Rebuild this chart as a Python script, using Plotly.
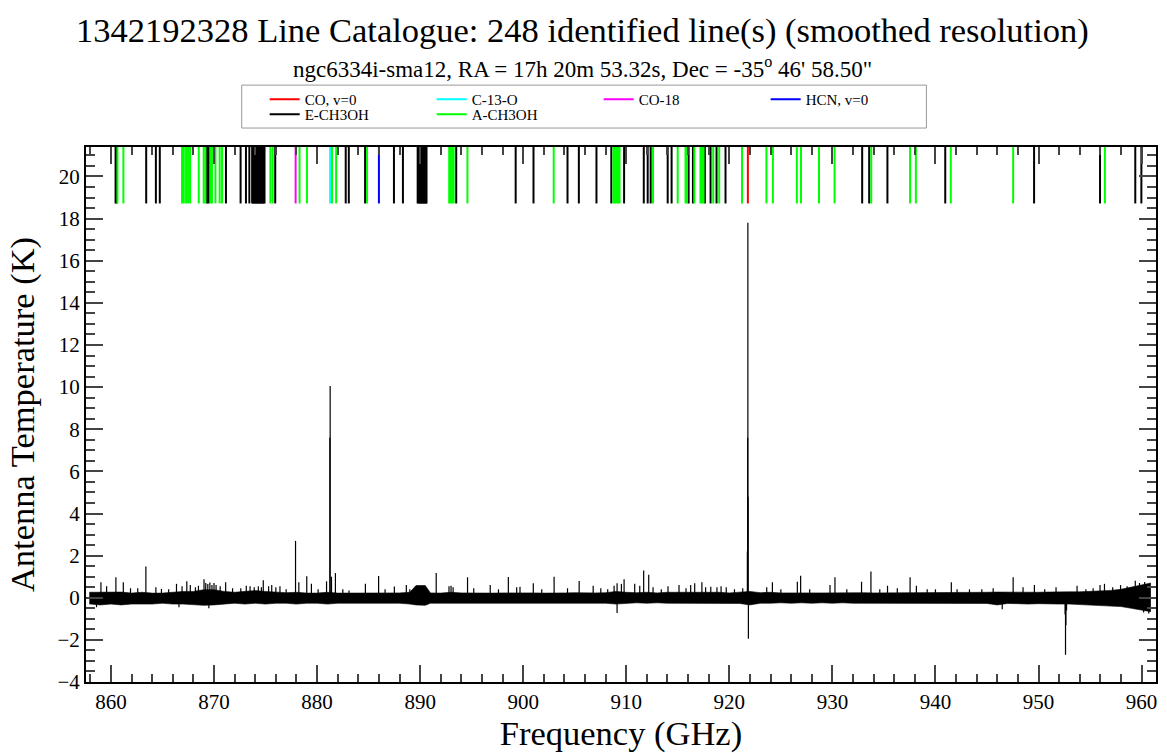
import plotly.graph_objects as go

# ---------------- text ----------------
title_text = "1342192328 Line Catalogue: 248 identified line(s) (smoothed resolution)"
subtitle_text = "ngc6334i-sma12, RA = 17h 20m 53.32s, Dec = -35<sup>o</sup> 46' 58.50\""
x_title = "Frequency (GHz)"
y_title = "Antenna Temperature (K)"

# ---------------- spectrum: noise envelope ----------------
env_freq = [857.9, 858, 859, 860, 861, 862, 863, 864, 865, 866, 867, 868, 869, 870, 871, 872,
            873, 874, 875, 876, 877, 878, 879, 880, 881, 882, 883, 884, 885, 886, 887, 888,
            889, 889.6, 890.5, 891, 892, 893, 894, 895, 896, 897, 898, 899, 900, 901, 902,
            903, 904, 905, 906, 907, 908, 909, 910, 911, 912, 913, 914, 915, 916, 917, 918,
            919, 920, 921, 922, 923, 924, 925, 926, 927, 928, 929, 930, 931, 932, 933, 934,
            935, 936, 937, 938, 939, 940, 941, 942, 943, 944, 945, 946, 947, 948, 949, 950,
            951, 952, 953, 954, 955, 956, 957, 958, 959, 960, 960.9]
env_upper = [0.26, 0.26, 0.25, 0.26, 0.27, 0.22, 0.26, 0.22, 0.22, 0.26, 0.3, 0.3, 0.38, 0.38, 0.3, 0.26,
             0.3, 0.34, 0.3, 0.26, 0.24, 0.26, 0.22, 0.22, 0.26, 0.22, 0.22, 0.23, 0.22, 0.22, 0.22, 0.23,
             0.26, 0.58, 0.58, 0.23, 0.22, 0.26, 0.23, 0.22, 0.23, 0.22, 0.23, 0.24, 0.22, 0.23, 0.22,
             0.24, 0.23, 0.24, 0.22, 0.23, 0.24, 0.3, 0.26, 0.24, 0.26, 0.23, 0.26, 0.26, 0.27, 0.28, 0.26,
             0.26, 0.23, 0.26, 0.3, 0.24, 0.26, 0.23, 0.24, 0.23, 0.23, 0.23, 0.24, 0.23, 0.23, 0.24, 0.23,
             0.23, 0.23, 0.24, 0.23, 0.23, 0.23, 0.26, 0.24, 0.26, 0.26, 0.26, 0.27, 0.26, 0.27, 0.27, 0.26,
             0.27, 0.26, 0.28, 0.28, 0.3, 0.32, 0.35, 0.4, 0.5, 0.6, 0.7]
env_lower = [-0.3, -0.3, -0.34, -0.3, -0.34, -0.3, -0.3, -0.3, -0.26, -0.3, -0.3, -0.34, -0.36, -0.34, -0.3, -0.26,
             -0.3, -0.26, -0.3, -0.26, -0.26, -0.3, -0.26, -0.26, -0.3, -0.26, -0.26, -0.26, -0.26, -0.27, -0.26, -0.26,
             -0.3, -0.34, -0.36, -0.26, -0.26, -0.26, -0.24, -0.26, -0.24, -0.26, -0.24, -0.24, -0.26, -0.24, -0.26,
             -0.24, -0.26, -0.24, -0.26, -0.24, -0.26, -0.3, -0.26, -0.24, -0.26, -0.24, -0.26, -0.26, -0.26, -0.27, -0.26,
             -0.26, -0.26, -0.27, -0.34, -0.26, -0.26, -0.24, -0.26, -0.24, -0.26, -0.24, -0.26, -0.24, -0.26, -0.26, -0.24,
             -0.26, -0.24, -0.26, -0.26, -0.24, -0.26, -0.26, -0.26, -0.26, -0.27, -0.27, -0.34, -0.27, -0.28, -0.3, -0.28,
             -0.3, -0.3, -0.3, -0.32, -0.33, -0.35, -0.37, -0.42, -0.5, -0.58, -0.66]

# ---------------- spectrum: individual spikes / dips ----------------
spike_freq = [859.03, 859.58, 860.48, 861.2, 861.9, 862.6, 863.39, 864.36, 864.9, 865.6, 866.36, 866.9,
              867.36, 867.7, 868.2, 868.49, 869.03, 869.2, 869.4, 869.6, 869.8, 870.0, 870.2, 870.6,
              871.13, 871.8, 872.6, 873.13, 873.5, 873.9, 874.3, 874.6, 874.78, 875.3, 875.6, 876.0,
              876.4, 877.0, 877.91, 878.23, 879.0, 879.45, 880.1, 880.92, 881.24, 881.27, 881.4, 881.78,
              882.5, 883.1, 884.69, 885.97, 886.6, 887.5, 888.66, 889.0, 891.56, 892.8, 893.0, 893.2,
              894.6, 895.2, 896.8, 897.6, 898.56, 899.37, 899.69, 900.98, 901.8, 903.0, 904.3, 905.43,
              906.79, 907.53, 908.2, 908.82, 909.11, 909.53, 909.79, 910.82, 911.31, 911.69, 912.18, 912.6,
              913.4, 914.05, 915.12, 915.8, 916.25, 916.64, 917.34, 917.7, 918.2, 918.8, 919.2, 919.7,
              920.5, 921.3, 921.75, 921.78, 921.80, 921.82, 923.63, 924.18, 925.0, 926.6, 926.92, 927.8,
              929.77, 930.25, 931.4, 932.83, 933.74, 934.6, 935.35, 936.3, 937.54, 938.15, 939.2, 940.0,
              941.54, 942.1, 943.3, 944.5, 945.6, 947.54, 948.5, 949.6, 950.6, 951.7, 953.74, 954.6,
              955.3, 955.97, 956.4, 957.2, 957.96, 958.6, 959.39, 959.8, 960.3, 960.6,
              858.6, 866.6, 869.5, 909.11, 921.85, 946.48, 952.58, 952.62, 952.66, 952.72, 960.2, 960.7]
spike_value = [0.73, 0.55, 0.97, 0.73, 0.45, 0.45, 1.48, 0.5, 0.42, 0.4, 0.66, 0.55,
               0.78, 0.6, 0.5, 0.57, 0.88, 0.7, 0.65, 0.72, 0.6, 0.7, 0.6, 0.55,
               0.73, 0.45, 0.45, 0.57, 0.55, 0.5, 0.55, 0.5, 0.83, 0.55, 0.6, 0.5,
               0.55, 0.4, 2.7, 0.73, 1.02, 0.66, 0.4, 0.78, 7.6, 10.05, 1.0, 1.17,
               0.4, 0.35, 0.66, 1.03, 0.4, 0.53, 0.6, 0.4, 1.18, 0.55, 0.57, 0.5,
               0.97, 0.45, 0.6, 0.4, 0.98, 0.5, 0.52, 0.69, 0.4, 1.0, 0.45, 0.8,
               0.57, 0.45, 0.4, 0.57, 0.69, 0.66, 0.88, 0.66, 0.57, 1.29, 1.09, 0.5,
               0.4, 0.55, 0.6, 0.45, 0.6, 0.69, 0.73, 0.5, 0.52, 0.5, 0.55, 0.5,
               0.4, 0.45, 2.2, 7.6, 17.8, 4.8, 0.5, 0.73, 0.4, 0.76, 1.05, 0.4,
               0.6, 0.97, 0.4, 0.76, 1.25, 0.4, 0.57, 0.45, 0.97, 0.57, 0.4, 0.4,
               0.73, 0.4, 0.4, 0.4, 0.45, 0.97, 0.5, 0.6, 0.4, 0.5, 0.57, 0.4,
               0.45, 0.6, 0.66, 0.5, 0.6, 0.55, 0.81, 0.7, 0.75, 0.65,
               -0.45, -0.45, -0.5, -0.72, -1.95, -0.55, -0.8, -2.71, -1.3, -0.6, -0.7, -0.75]

# ---------------- line catalogue (GHz) ----------------
co_lines = [921.80]
c13o_lines = [881.27]
co18_lines = [877.92]
hcn_lines = [886.0]
e_ch3oh_lines = [860.45, 860.55, 863.42, 864.36, 864.74, 869.32, 869.49, 871.16, 872.58, 873.10, 873.43,
                 873.70, 873.78, 873.86, 873.94, 874.02, 874.10, 874.18, 874.26, 874.34, 874.42, 874.50,
                 874.58, 874.66, 874.74, 874.82, 874.90, 875.94, 882.78, 883.08, 884.66, 887.46, 888.33,
                 889.76, 889.84, 889.92, 890.00, 890.08, 890.16, 890.24, 890.32, 890.40, 890.48, 890.56,
                 890.62, 893.50, 899.27, 901.00, 904.30, 905.40, 907.11, 908.55, 909.79, 911.70, 912.08,
                 912.37, 914.02, 914.40, 916.05, 916.47, 917.63, 918.18, 918.76, 919.63, 932.89, 933.57,
                 935.34, 940.95, 949.57, 955.97, 959.39, 959.98]
a_ch3oh_lines = [860.63, 861.21, 866.90, 867.07, 867.29, 867.48, 867.68, 868.52, 869.00, 869.17, 869.65,
                 869.80, 870.14, 870.55, 870.78, 875.47, 875.70, 878.30, 879.02, 881.45, 881.85, 884.85,
                 892.82, 892.95, 893.10, 893.25, 894.59, 902.96, 908.75, 908.90, 909.05, 909.20, 909.35,
                 912.60, 914.99, 915.75, 915.90, 916.60, 917.20, 917.35, 917.50, 918.44, 919.02, 921.23,
                 923.60, 924.23, 926.55, 926.95, 928.70, 930.21, 933.77, 937.54, 938.10, 941.49, 947.54,
                 956.44]

species = [
    ("CO, v=0", co_lines, "#ff0000", "legend"),
    ("C-13-O", c13o_lines, "#00ffff", "legend"),
    ("CO-18", co18_lines, "#ff00ff", "legend"),
    ("HCN, v=0", hcn_lines, "#0000ff", "legend"),
    ("E-CH3OH", e_ch3oh_lines, "#000000", "legend2"),
    ("A-CH3OH", a_ch3oh_lines, "#00ff00", "legend2"),
]
marker_bottom = 18.72
marker_top = 21.6

FONT = "Liberation Serif"

fig = go.Figure()

# noise band
fig.add_trace(go.Scatter(x=env_freq, y=env_upper, mode="lines",
                         line=dict(color="black", width=0.6), showlegend=False, hoverinfo="skip"))
fig.add_trace(go.Scatter(x=env_freq, y=env_lower, mode="lines", fill="tonexty",
                         fillcolor="black", line=dict(color="black", width=0.6),
                         showlegend=False, hoverinfo="skip"))

# spikes
sx, sy = [], []
for f, v in zip(spike_freq, spike_value):
    sx += [f, f, None]
    sy += [0, v, None]
fig.add_trace(go.Scatter(x=sx, y=sy, mode="lines", line=dict(color="black", width=1.2),
                         showlegend=False, hoverinfo="skip"))

# catalogue markers
for name, freqs, color, lg in species:
    lx, ly = [], []
    for f in freqs:
        lx += [f, f, None]
        ly += [marker_bottom, marker_top, None]
    fig.add_trace(go.Scatter(x=lx, y=ly, mode="lines", name=name,
                             line=dict(color=color, width=2), legend=lg))

W, H = 1167, 753
ml, mr, mt, mb = 86, 9, 147, 70
pw, ph = W - ml - mr, H - mt - mb


def px_x(px):
    return (px - ml) / pw


def px_y(py):
    return (H - mb - py) / ph


fig.update_layout(
    width=W, height=H,
    margin=dict(l=ml, r=mr, t=mt, b=mb),
    paper_bgcolor="white", plot_bgcolor="white",
    font=dict(family=FONT, color="black", size=15),
    showlegend=True,
    legend=dict(orientation="h", x=px_x(265), y=px_y(83), xanchor="left", yanchor="top",
                traceorder="normal", entrywidth=122, bgcolor="rgba(0,0,0,0)",
                font=dict(family=FONT, size=15)),
    legend2=dict(orientation="h", x=px_x(265), y=px_y(98), xanchor="left", yanchor="top",
                 traceorder="normal", entrywidth=122, bgcolor="rgba(0,0,0,0)",
                 font=dict(family=FONT, size=15)),
    shapes=[dict(type="rect", xref="paper", yref="paper",
                 x0=px_x(242), x1=px_x(928), y0=px_y(128), y1=px_y(85),
                 line=dict(color="#999999", width=1))],
    annotations=[
        dict(text=title_text, xref="paper", yref="paper", x=px_x(583), y=px_y(30),
             xanchor="center", yanchor="middle", showarrow=False,
             font=dict(family=FONT, size=34.5)),
        dict(text=subtitle_text, xref="paper", yref="paper", x=px_x(583), y=px_y(67),
             xanchor="center", yanchor="middle", showarrow=False,
             font=dict(family=FONT, size=23)),
    ],
    xaxis=dict(range=[857.58, 961.4], tick0=860, dtick=10, ticks="inside", ticklen=17, tickwidth=2,
               minor=dict(dtick=2, ticks="inside", ticklen=8, tickwidth=1.5),
               showline=True, linecolor="black", linewidth=2, mirror="ticks",
               showgrid=False, zeroline=False,
               tickfont=dict(family=FONT, size=21),
               title=dict(text=x_title, font=dict(family=FONT, size=34.5), standoff=6)),
    yaxis=dict(range=[-4, 21.4], tick0=0, dtick=2, ticks="inside", ticklen=17, tickwidth=2,
               minor=dict(dtick=0.5, ticks="inside", ticklen=9, tickwidth=1.5),
               showline=True, linecolor="black", linewidth=2, mirror="ticks",
               showgrid=False, zeroline=False,
               tickfont=dict(family=FONT, size=21),
               title=dict(text=y_title, font=dict(family=FONT, size=34.5), standoff=12)),
)

fig.write_html("out.html")
